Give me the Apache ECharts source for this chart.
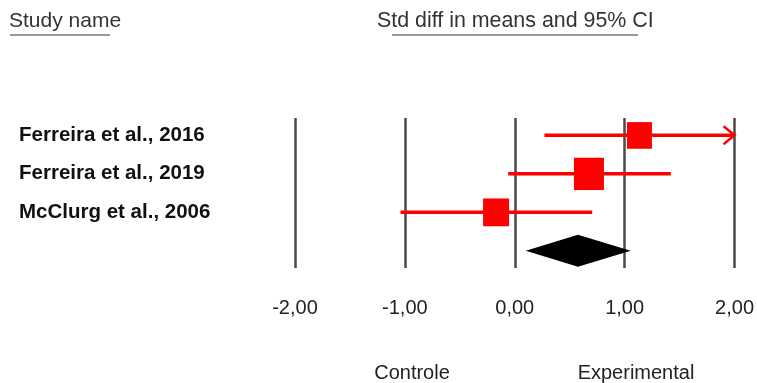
<!DOCTYPE html>
<html><head><meta charset="utf-8">
<script src="https://cdn.jsdelivr.net/npm/echarts@6/dist/echarts.min.js"></script>
<style>html,body{margin:0;padding:0;background:#fff}#c{width:757px;height:383px}</style>
</head><body><div id="c"></div>
<script>
// ---- data ----
const studies = ['Ferreira et al., 2016', 'Ferreira et al., 2019', 'McClurg et al., 2006'];
const estimates = [1.135, 0.675, -0.17];
const lower = [0.27, -0.06, -1.04];
const upper = [2.00, 1.42, 0.705];
const weights = [0.69, 1.0, 0.75];           // relative weight (square area)
const summaryEst = 0.575, summaryLow = 0.10, summaryHigh = 1.055;
const tickValues = [-2, -1, 0, 1, 2];
const leftLabel = 'Controle', rightLabel = 'Experimental';
const headerLeft = 'Study name', headerRight = 'Std diff in means and 95% CI';

const xMin = tickValues[0], xMax = tickValues[tickValues.length - 1];
const FONT = '"Liberation Sans", Arial, sans-serif';

const chart = echarts.init(document.getElementById('c'), null, { renderer: 'canvas' });

const studyData = studies.map((s, i) => [estimates[i], lower[i], upper[i], i + 1, weights[i]]);
const summaryData = [[summaryEst, summaryLow, summaryHigh, studies.length + 1]];

function renderStudy(params, api) {
  const est = api.value(0), lo = api.value(1), hi = api.value(2), row = api.value(3), w = api.value(4);
  const y = api.coord([0, row])[1];
  const x0 = api.coord([Math.max(lo, xMin), row])[0];
  const x1 = api.coord([Math.min(hi, xMax), row])[0];
  const xc = api.coord([est, row])[0];
  const s = 30 * Math.sqrt(w);
  const children = [{
    type: 'line', shape: { x1: x0, y1: y, x2: x1, y2: y },
    style: { stroke: '#ff0000', lineWidth: 3.5 }
  }];
  if (hi >= xMax) {
    children.push({ type: 'polyline', shape: { points: [[x1 - 11, y - 9], [x1, y], [x1 - 11, y + 9]] },
      style: { stroke: '#ff0000', lineWidth: 2.5, fill: null } });
  }
  children.push({ type: 'rect', shape: { x: xc - s / 2, y: y - s * 0.53, width: s, height: s * 1.07 },
    style: { fill: '#ff0000' } });
  return { type: 'group', children };
}

function renderSummary(params, api) {
  const est = api.value(0), lo = api.value(1), hi = api.value(2), row = api.value(3);
  const y = api.coord([0, row])[1];
  const xl = api.coord([lo, row])[0], xr = api.coord([hi, row])[0], xc = api.coord([est, row])[0];
  const h = 16;
  return { type: 'polygon', shape: { points: [[xl, y], [xc, y - h], [xr, y], [xc, y + h]] },
    style: { fill: '#000000' } };
}

const option = {
  animation: false,
  backgroundColor: '#ffffff',
  grid: { left: 295, right: 22, top: 118, bottom: 115 },
  xAxis: {
    type: 'value', min: xMin, max: xMax, interval: 1,
    axisLine: { show: false }, axisTick: { show: false },
    splitLine: { show: true, lineStyle: { color: '#4a4a4a', width: 2.5 } },
    axisLabel: { margin: 30, fontSize: 20, color: '#222', fontFamily: FONT,
      formatter: v => v.toFixed(2).replace('.', ',') }
  },
  yAxis: {
    type: 'value', inverse: true, min: 0.55, max: 4.45,
    axisLine: { show: false }, axisTick: { show: false }, splitLine: { show: false },
    axisLabel: {
      customValues: studies.map((s, i) => i + 1),
      formatter: v => studies[Math.round(v) - 1] || '',
      align: 'left', margin: 276, fontWeight: 'bold', fontSize: 20.5, color: '#111', fontFamily: FONT
    }
  },
  series: [
    { type: 'custom', renderItem: renderStudy, data: studyData, encode: { x: [0, 1, 2], y: 3 }, clip: false },
    { type: 'custom', renderItem: renderSummary, data: summaryData, encode: { x: [0, 1, 2], y: 3 }, clip: false }
  ],
  graphic: [
    { type: 'text', left: 9, top: 11, style: { text: headerLeft, font: '21px ' + FONT, fill: '#333' } },
    { type: 'line', shape: { x1: 10, y1: 35, x2: 110, y2: 35 }, style: { stroke: '#999', lineWidth: 2 } },
    { type: 'text', left: 377, top: 11, style: { text: headerRight, font: '21.4px ' + FONT, fill: '#333' } },
    { type: 'line', shape: { x1: 392, y1: 35, x2: 638, y2: 35 }, style: { stroke: '#999', lineWidth: 2 } },
    { type: 'text', x: 412, y: 373, style: { text: leftLabel, font: '20px ' + FONT, fill: '#222', align: 'center', verticalAlign: 'middle' } },
    { type: 'text', x: 636, y: 373, style: { text: rightLabel, font: '20px ' + FONT, fill: '#222', align: 'center', verticalAlign: 'middle' } }
  ]
};
chart.setOption(option);
</script></body></html>
